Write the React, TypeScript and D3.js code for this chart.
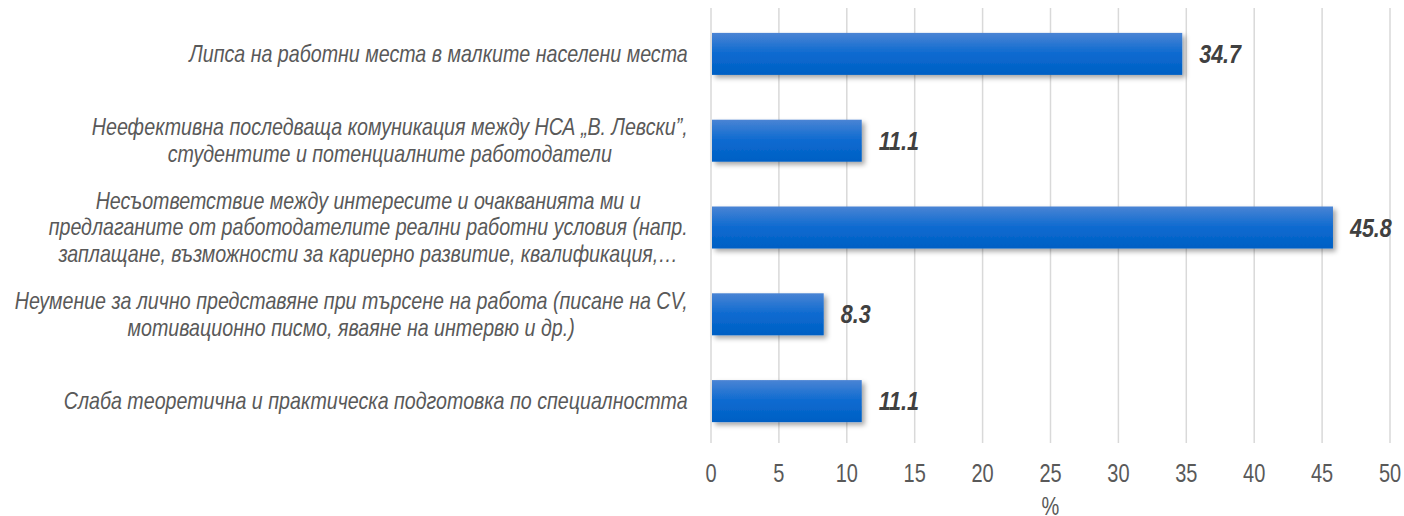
import React, { useEffect, useRef } from "react";
import * as d3 from "d3";

const categories = [
  ["Липса на работни места в малките населени места"],
  ["Неефективна последваща комуникация между НСА „В. Левски”,", "студентите и потенциалните работодатели"],
  [
    "Несъответствие между интересите и очакванията ми и",
    "предлаганите от работодателите реални работни условия (напр.",
    "заплащане, възможности за кариерно развитие, квалификация,…",
  ],
  ["Неумение за лично представяне при търсене на работа (писане на CV,", "мотивационно писмо, яваяне на интервю и др.)"],
  ["Слаба теоретична и практическа подготовка по специалността"],
];
const values = [34.7, 11.1, 45.8, 8.3, 11.1];
const ticks = [0, 5, 10, 15, 20, 25, 30, 35, 40, 45, 50];
const axisTitle = "%";

const W = 1404;
const H = 516;
// no narrow font installed, so squeeze Liberation Sans horizontally
const FONT = "'Liberation Sans', Arial, sans-serif";

export default function App() {
  const svgRef = useRef<SVGSVGElement>(null);

  useEffect(() => {
    const svg = d3.select(svgRef.current);
    svg.selectAll("*").remove();

    const left = 711, right = 1390, top = 10.5, bottom = 444.5;

    const x = d3.scaleLinear().domain([0, 50]).range([left, right]);
    const y = d3
      .scaleBand<number>()
      .domain(d3.range(values.length))
      .range([top, bottom])
      .paddingInner(0.516)
      .paddingOuter(0.258);

    const defs = svg.append("defs");
    const grad = defs.append("linearGradient")
      .attr("id", "barGrad")
      .attr("x1", 0).attr("y1", 0).attr("x2", 0).attr("y2", 1);
    grad.append("stop").attr("offset", "0%").attr("stop-color", "#4a84d4");
    grad.append("stop").attr("offset", "50%").attr("stop-color", "#0c6ad0");
    grad.append("stop").attr("offset", "100%").attr("stop-color", "#0060c4");

    const shadow = defs.append("filter").attr("id", "shadow")
      .attr("x", "-5%").attr("y", "-20%").attr("width", "115%").attr("height", "150%");
    shadow.append("feDropShadow")
      .attr("dx", 3).attr("dy", 3).attr("stdDeviation", 2.5)
      .attr("flood-color", "#000").attr("flood-opacity", 0.35);

    // ---------------- gridlines ----------------
    svg.append("g")
      .selectAll("line")
      .data(ticks)
      .join("line")
      .attr("x1", d => x(d)).attr("x2", d => x(d))
      .attr("y1", 8).attr("y2", 443)
      .attr("stroke", "#d9d9d9")
      .attr("stroke-width", 1.5);

    // ---------------- tick labels ----------------
    svg.append("g")
      .selectAll("text")
      .data(ticks)
      .join("text")
      .attr("transform", d => `translate(${x(d)},482) scale(0.8,1)`)
      .attr("text-anchor", "middle")
      .attr("font-family", FONT)
      .attr("font-size", 25)
      .attr("fill", "#595959")
      .text(d => d);

    svg.append("text")
      .attr("transform", `translate(${(left + right) / 2},515) scale(0.8,1)`)
      .attr("text-anchor", "middle")
      .attr("font-family", FONT)
      .attr("font-size", 25)
      .attr("fill", "#595959")
      .text(axisTitle);

    // ---------------- bars ----------------
    svg.append("g")
      .selectAll("rect")
      .data(values)
      .join("rect")
      .attr("x", x(0) + 1)
      .attr("y", (_, i) => y(i)!)
      .attr("width", d => x(d) - x(0) - 1)
      .attr("height", y.bandwidth())
      .attr("fill", "url(#barGrad)")
      .attr("filter", "url(#shadow)");

    // ---------------- value labels ----------------
    svg.append("g")
      .selectAll("text")
      .data(values)
      .join("text")
      .attr("transform", (d, i) =>
        `translate(${x(d) + 17},${y(i)! + y.bandwidth() / 2 + 9}) scale(0.86,1)`)
      .attr("font-family", FONT)
      .attr("font-size", 25)
      .attr("font-weight", "bold")
      .attr("font-style", "italic")
      .attr("fill", "#404040")
      .text(d => d.toFixed(1));

    // ---------------- category labels ----------------
    const lineH = 26.7;
    const sx = 0.855;
    categories.forEach((lines, i) => {
      const g = svg.append("g");
      const cy = y(i)! + y.bandwidth() / 2;
      const t = g.append("text")
        .attr("text-anchor", "middle")
        .attr("font-family", FONT)
        .attr("font-size", 23)
        .attr("font-style", "italic")
        .attr("fill", "#595959");
      lines.forEach((l, j) => {
        t.append("tspan")
          .attr("x", 0)
          .attr("y", cy + (j - (lines.length - 1) / 2) * lineH + 8)
          .text(l);
      });
      const box = (t.node() as SVGTextElement).getBBox();
      g.attr("transform", `translate(${688 - sx * (box.x + box.width)},0) scale(${sx},1)`);
    });
  }, []);

  return (
    <div style={{ position: "absolute", left: 0, top: 0 }}>
      <svg ref={svgRef} width={W} height={H} style={{ display: "block", background: "#fff" }} />
    </div>
  );
}
